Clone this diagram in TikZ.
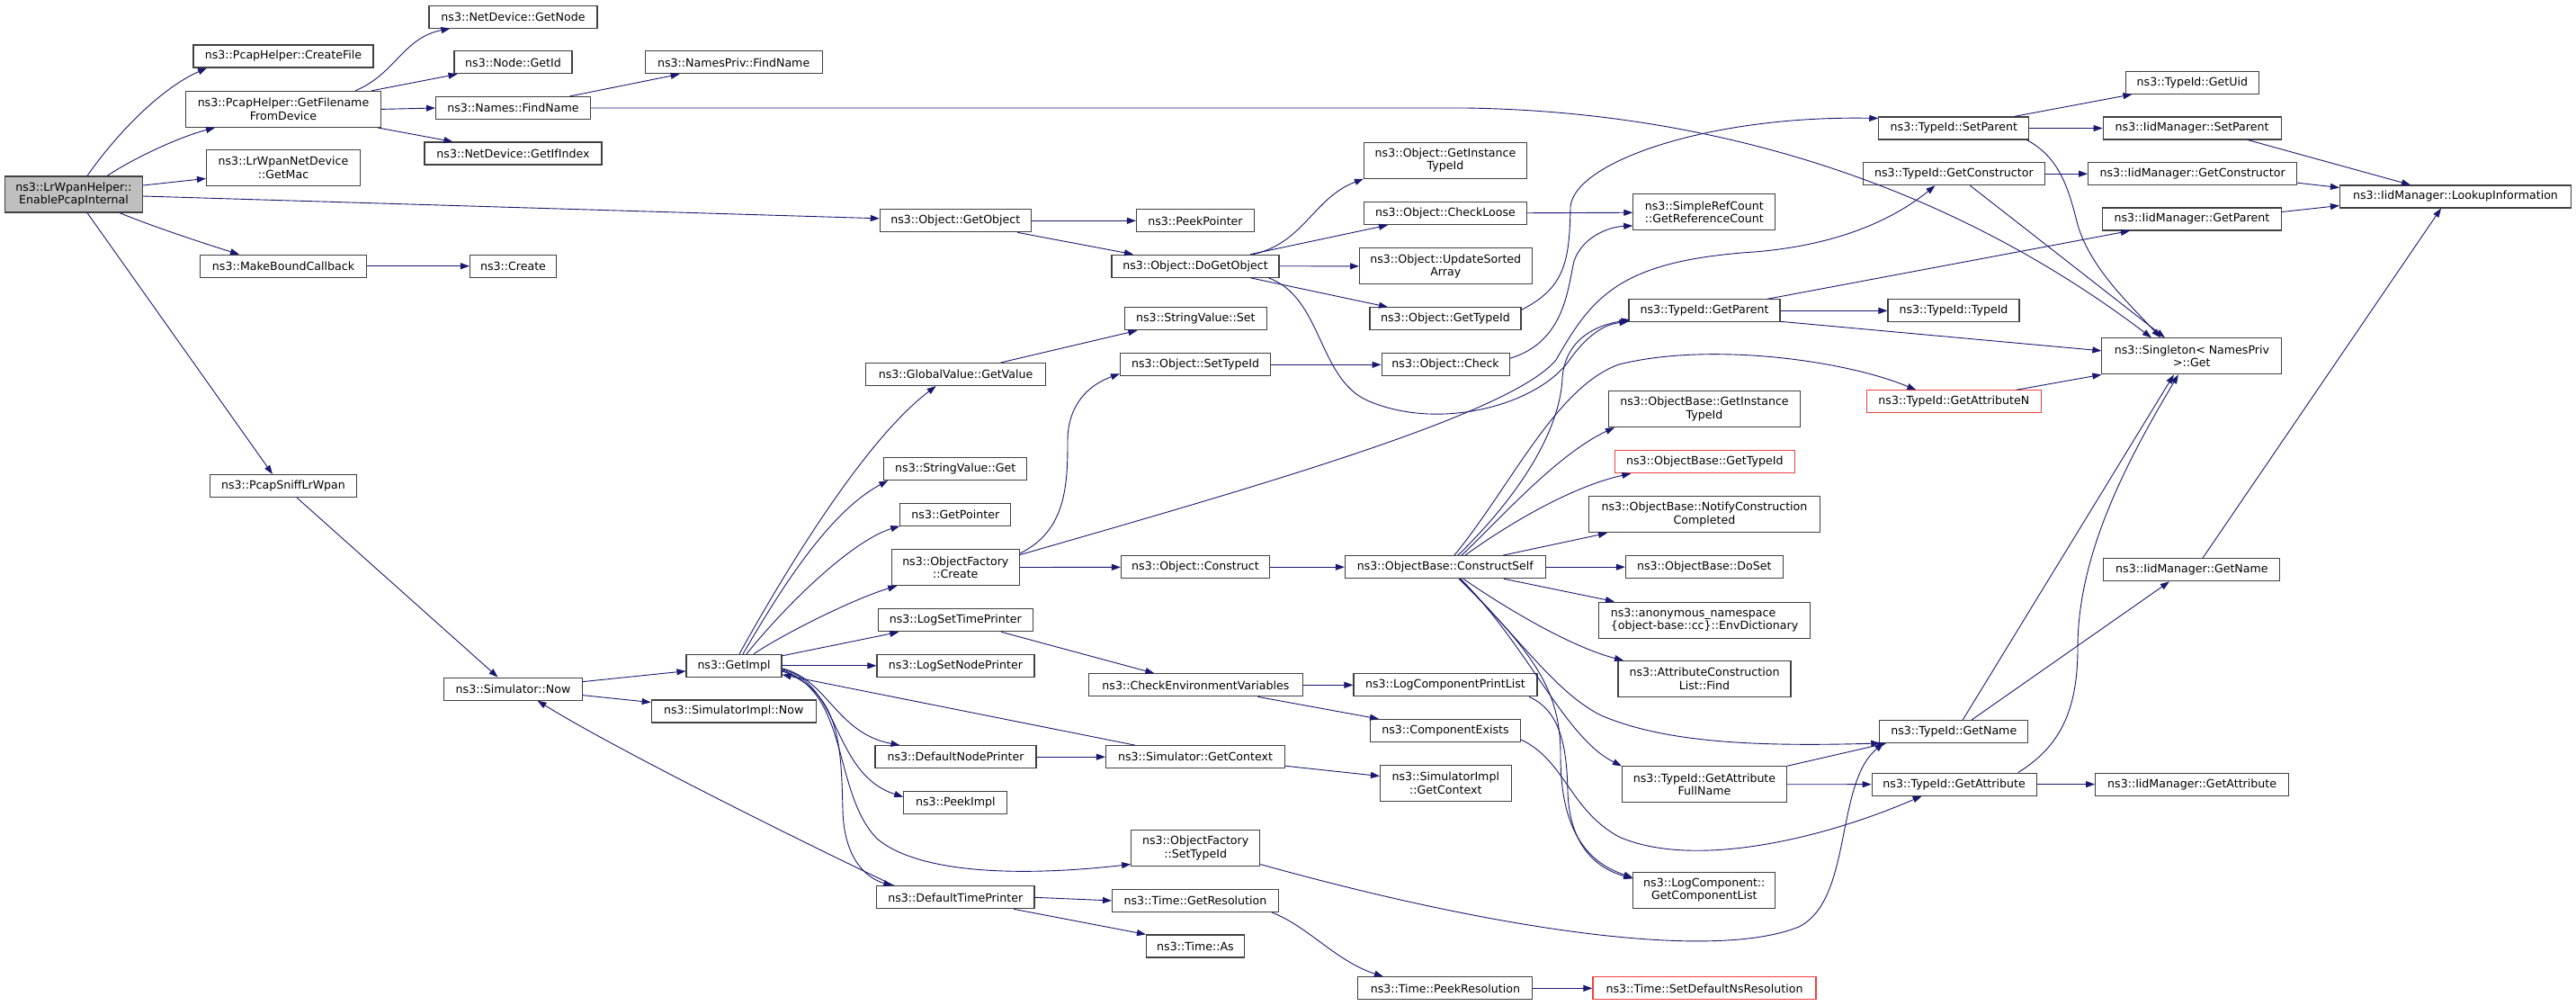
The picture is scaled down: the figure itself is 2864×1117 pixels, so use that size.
\documentclass[tikz,border=0pt]{standalone}
\usepackage{fontspec}
\setmainfont{DejaVu Sans}
\usetikzlibrary{arrows.meta}
\definecolor{mblue}{HTML}{191970}
\definecolor{nodeborder}{HTML}{404040}
\definecolor{redborder}{HTML}{F04040}
\newcommand\dxfont{\fontsize{12.6}{14.6}\selectfont}
\tikzset{
  fn/.style={draw=nodeborder, line width=1.1pt, fill=white, minimum height=25pt, inner sep=0pt, align=center, font=\dxfont},
  fn2/.style={fn, minimum height=40pt},
  rootnode/.style={fill=black!25},
  rednode/.style={draw=redborder},
  edge/.style={draw=mblue, line width=0.9pt, -{Triangle[length=10pt,width=7pt]}},
}
\begin{document}
\begin{tikzpicture}[x=1pt,y=-1pt]
\useasboundingbox (0,0) rectangle (2864,1117);
\fill[white] (0,0) rectangle (2864,1117);
% ---------- nodes ----------
\node[fn2,rootnode,minimum width=153pt] (N1) at (82,216) {ns3::LrWpanHelper::\\EnablePcapInternal};
\node[fn,minimum width=200pt] (N2) at (315,62.5) {ns3::PcapHelper::CreateFile};
\node[fn2,minimum width=217pt] (N3) at (315,121.4) {ns3::PcapHelper::GetFilename\\FromDevice};
\node[fn2,minimum width=171pt] (N4) at (315,186.4) {ns3::LrWpanNetDevice\\::GetMac};
\node[fn,minimum width=185.5pt] (N5) at (315,295.7) {ns3::MakeBoundCallback};
\node[fn,minimum width=163pt] (N6) at (315,540) {ns3::PcapSniffLrWpan};
\node[fn,minimum width=187pt] (N7) at (570.5,18.6) {ns3::NetDevice::GetNode};
\node[fn,minimum width=131pt] (N8) at (570.5,69.3) {ns3::Node::GetId};
\node[fn,minimum width=172pt] (N9) at (570.5,120) {ns3::Names::FindName};
\node[fn,minimum width=197pt] (N10) at (570.5,170.5) {ns3::NetDevice::GetIfIndex};
\node[fn,minimum width=96pt] (N11) at (570.5,295.7) {ns3::Create};
\node[fn,minimum width=153.4pt] (N12) at (570.5,765.6) {ns3::Simulator::Now};
\node[fn,minimum width=197pt] (N13) at (815.7,69.3) {ns3::NamesPriv::FindName};
\node[fn,minimum width=106pt] (N14) at (816,739.8) {ns3::GetImpl};
\node[fn,minimum width=183pt] (N15) at (815.7,790.5) {ns3::SimulatorImpl::Now};
\node[fn,minimum width=168pt] (N16) at (1062.3,245.3) {ns3::Object::GetObject};
\node[fn,minimum width=200pt] (N17) at (1062.6,416) {ns3::GlobalValue::GetValue};
\node[fn,minimum width=159pt] (N18) at (1062.3,521) {ns3::StringValue::Get};
\node[fn,minimum width=123pt] (N19) at (1062.3,571.6) {ns3::GetPointer};
\node[fn2,minimum width=142pt] (N20) at (1062.3,630.6) {ns3::ObjectFactory\\::Create};
\node[fn,minimum width=172pt] (N21) at (1062.3,689.3) {ns3::LogSetTimePrinter};
\node[fn,minimum width=175pt] (N22) at (1062.5,739.8) {ns3::LogSetNodePrinter};
\node[fn,minimum width=179pt] (N23) at (1062.5,841.2) {ns3::DefaultNodePrinter};
\node[fn,minimum width=115pt] (N24) at (1062.3,891.6) {ns3::PeekImpl};
\node[fn,minimum width=175.4pt] (N25) at (1062.3,997.3) {ns3::DefaultTimePrinter};
\node[fn,minimum width=131pt] (N26) at (1329,245.3) {ns3::PeekPointer};
\node[fn,minimum width=186pt] (N27) at (1329,295.7) {ns3::Object::DoGetObject};
\node[fn,minimum width=157.5pt] (N28) at (1329.4,354.2) {ns3::StringValue::Set};
\node[fn,minimum width=167pt] (N29) at (1329,405.3) {ns3::Object::SetTypeId};
\node[fn,minimum width=165pt] (N30) at (1329,630.2) {ns3::Object::Construct};
\node[fn,minimum width=237.6pt] (N31) at (1329.4,761.3) {ns3::CheckEnvironmentVariables};
\node[fn,minimum width=199pt] (N32) at (1329,841.2) {ns3::Simulator::GetContext};
\node[fn2,minimum width=143pt] (N33) at (1329.2,942.5) {ns3::ObjectFactory\\::SetTypeId};
\node[fn,minimum width=185pt] (N34) at (1329,1000.9) {ns3::Time::GetResolution};
\node[fn,minimum width=109pt] (N35) at (1329,1051.5) {ns3::Time::As};
\node[fn2,minimum width=181pt] (N36) at (1607,178.2) {ns3::Object::GetInstance\\TypeId};
\node[fn,minimum width=181pt] (N37) at (1607,237.1) {ns3::Object::CheckLoose};
\node[fn2,minimum width=191.5pt] (N38) at (1607.3,295.9) {ns3::Object::UpdateSorted\\Array};
\node[fn,minimum width=168pt] (N39) at (1607,354.3) {ns3::Object::GetTypeId};
\node[fn,minimum width=142pt] (N40) at (1607.1,405.3) {ns3::Object::Check};
\node[fn,minimum width=223pt] (N41) at (1606.9,630.2) {ns3::ObjectBase::ConstructSelf};
\node[fn,minimum width=204pt] (N42) at (1607,761.3) {ns3::LogComponentPrintList};
\node[fn,minimum width=167pt] (N43) at (1607,812) {ns3::ComponentExists};
\node[fn2,minimum width=145.6pt] (N44) at (1607.3,870.5) {ns3::SimulatorImpl\\::GetContext};
\node[fn,minimum width=194pt] (N45) at (1606.9,1098.3) {ns3::Time::PeekResolution};
\node[fn2,minimum width=158pt] (N46) at (1894.8,235.9) {ns3::SimpleRefCount\\::GetReferenceCount};
\node[fn,minimum width=168pt] (N47) at (1895,345.3) {ns3::TypeId::GetParent};
\node[fn2,minimum width=213pt] (N48) at (1895,454.6) {ns3::ObjectBase::GetInstance\\TypeId};
\node[fn,rednode,minimum width=200pt] (N49) at (1895.3,513.2) {ns3::ObjectBase::GetTypeId};
\node[fn2,minimum width=257pt] (N50) at (1895,571.8) {ns3::ObjectBase::NotifyConstruction\\Completed};
\node[fn,minimum width=175pt] (N51) at (1894.8,630.2) {ns3::ObjectBase::DoSet};
\node[fn2,minimum width=235pt,align=left] (N52) at (1895,689.1) {ns3::anonymous\_namespace\\\{object-base::cc\}::EnvDictionary};
\node[fn2,minimum width=192pt] (N53) at (1895,754.5) {ns3::AttributeConstruction\\List::Find};
\node[fn2,minimum width=183pt] (N54) at (1895,871.8) {ns3::TypeId::GetAttribute\\FullName};
\node[fn2,minimum width=158pt] (N55) at (1894.8,989.3) {ns3::LogComponent::\\GetComponentList};
\node[fn,rednode,minimum width=248pt] (N56) at (1895,1098.3) {ns3::Time::SetDefaultNsResolution};
\node[fn,minimum width=167pt] (N57) at (2172.3,142.5) {ns3::TypeId::SetParent};
\node[fn,minimum width=202pt] (N58) at (2172.4,193.2) {ns3::TypeId::GetConstructor};
\node[fn,minimum width=146pt] (N59) at (2172,345.3) {ns3::TypeId::TypeId};
\node[fn,rednode,minimum width=193.5pt] (N60) at (2172.3,446.4) {ns3::TypeId::GetAttributeN};
\node[fn,minimum width=165pt] (N61) at (2172.3,812.9) {ns3::TypeId::GetName};
\node[fn,minimum width=183pt] (N62) at (2172.6,871.6) {ns3::TypeId::GetAttribute};
\node[fn,minimum width=148.6pt] (N63) at (2437.4,91.8) {ns3::TypeId::GetUid};
\node[fn,minimum width=198pt] (N64) at (2437.1,142.5) {ns3::IidManager::SetParent};
\node[fn,minimum width=232pt] (N65) at (2437.6,193.2) {ns3::IidManager::GetConstructor};
\node[fn,minimum width=199pt] (N66) at (2436.9,243.5) {ns3::IidManager::GetParent};
\node[fn2,minimum width=200pt] (N67) at (2436.9,395.8) {ns3::Singleton\textless{} NamesPriv\\ \textgreater{}::Get};
\node[fn,minimum width=196pt] (N68) at (2436.9,633.3) {ns3::IidManager::GetName};
\node[fn,minimum width=215pt] (N69) at (2437.1,871.6) {ns3::IidManager::GetAttribute};
\node[fn,minimum width=257pt] (N70) at (2730,218.5) {ns3::IidManager::LookupInformation};
% ---------- edges ----------
\draw[edge] ([xshift=15pt]N1.north) .. controls (125,155) and (175,100) .. ([xshift=-85pt]N2.south);
\draw[edge] ([xshift=37pt]N1.north) .. controls (150,175) and (200,152) .. ([xshift=-76pt]N3.south);
\draw[edge] ([yshift=10pt]N1.east) -- ([yshift=-12pt]N4.west);
\draw[edge] ([yshift=-2pt]N1.east) -- ([yshift=2.5pt]N16.west);
\draw[edge] ([xshift=51pt]N1.south) .. controls (165,250) and (225,270) .. ([xshift=-49pt]N5.north);
\draw[edge] ([xshift=15pt]N1.south) -- ([xshift=-12pt]N6.north);
\draw[edge] ([xshift=80pt]N3.north) .. controls (440,82) and (448,42) .. ([xshift=-70pt]N7.south);
\draw[edge] ([xshift=98pt]N3.north) -- ([xshift=-62pt]N8.south);
\draw[edge] (N3.east) -- (N9.west);
\draw[edge] ([xshift=105pt]N3.south) -- ([xshift=-67pt]N10.north);
\draw[edge] ([xshift=63pt]N9.north) -- ([xshift=-60pt]N13.south);
\draw[edge] (N9.east) -- (1630,120) .. controls (1950,125) and (2200,230) .. ([xshift=-45pt]N67.north);
\draw[edge] (N5) -- (N11);
\draw[edge] ([xshift=15pt]N6.south) -- ([xshift=-17pt]N12.north);
\draw[edge] ([yshift=8pt]N12.east) -- ([yshift=-6pt]N14.west);
\draw[edge] ([yshift=-7pt]N12.east) -- ([yshift=10pt]N15.west);
\draw[edge] ([xshift=-68pt]N25.north) .. controls (880,930) and (680,830) .. ([xshift=27pt]N12.south);
% GetImpl
\draw[edge] ([xshift=6pt]N14.north) .. controls (870,640) and (960,490) .. ([xshift=-22pt]N17.south);
\draw[edge] ([xshift=10pt]N14.north) .. controls (865,660) and (920,570) .. ([xshift=-75pt]N18.south);
\draw[edge] ([xshift=14pt]N14.north) .. controls (880,665) and (950,600) .. ([xshift=-62pt]N19.south);
\draw[edge] ([xshift=22pt]N14.north) .. controls (870,705) and (950,665) .. ([xshift=-65pt]N20.south);
\draw[edge] ([yshift=11pt]N14.east) -- ([xshift=-63pt]N21.south);
\draw[edge] (N14) -- (N22);
\draw[edge] ([xshift=-67pt]N32.north) -- ([yshift=-10pt]N14.east);
\draw[edge] ([yshift=-3pt]N14.east) .. controls (920,755) and (930,815) .. ([xshift=-62pt]N23.north);
\draw[edge] ([yshift=-4pt]N14.east) .. controls (935,760) and (925,860) .. ([yshift=6pt]N24.west);
\draw[edge] ([yshift=-5pt]N14.east) .. controls (945,770) and (925,880) .. (975,932) .. controls (1020,970) and (1130,975) .. ([yshift=-18pt]N33.west);
\draw[edge] ([yshift=-6pt]N14.east) .. controls (935,770) and (935,830) .. (937,900) .. controls (938,950) and (960,975) .. ([xshift=-70pt]N25.north);
% column 5
\draw[edge] (N23) -- (N32);
\draw[edge] ([xshift=51pt]N21.south) -- ([xshift=-46pt]N31.north);
\draw[edge] (N31) -- (N42);
\draw[edge] ([xshift=69pt]N31.south) -- ([xshift=-74pt]N43.north);
\draw[edge] ([yshift=-10pt]N32.east) -- ([yshift=8pt]N44.west);
\draw[edge] (N25.east) -- (N34.west);
\draw[edge] ([xshift=65pt]N25.south) -- ([xshift=-55pt]N35.north);
\draw[edge] ([xshift=85pt]N34.south) .. controls (1455,1030) and (1485,1068) .. ([xshift=-69pt]N45.north);
\draw[edge] (N45) -- (N56);
\draw[edge] ([yshift=-18pt]N33.east) .. controls (1650,1030) and (1900,1070) .. (2000,1030) .. controls (2060,1000) and (2040,870) .. ([xshift=-78pt]N61.south);
% object factory
\draw[edge] (N30) -- (N41);
\draw[edge] (N20) -- (N30);
\draw[edge] ([yshift=-5pt]N20.north east) .. controls (1185,590) and (1187,540) .. (1187,490) .. controls (1187,450) and (1210,428) .. ([yshift=-10pt]N29.west);
\draw[edge] ([yshift=14pt]N20.east) .. controls (1400,540) and (1680,460) .. (1730,400) .. controls (1770,330) and (1800,290) .. (1950,280) .. controls (2050,272) and (2110,240) .. ([xshift=-21pt]N58.south);
% GetObject
\draw[edge] (N16) -- (N26);
\draw[edge] ([xshift=69pt]N16.south) -- ([xshift=-69pt]N27.north);
\draw[edge] ([xshift=64pt]N27.north) .. controls (1450,270) and (1460,220) .. (N36.south west);
\draw[edge] ([xshift=61pt]N27.north) -- ([xshift=-64pt]N37.south);
\draw[edge] (N27) -- (N38);
\draw[edge] ([xshift=61pt]N27.south) -- ([xshift=-64pt]N39.north);
\draw[edge] ([xshift=81pt]N27.south) .. controls (1470,330) and (1465,420) .. (1520,445) .. controls (1600,480) and (1710,450) .. (1745,400) .. controls (1770,365) and (1790,360) .. ([yshift=1pt]N47.south west);
\draw[edge] (N29) -- (N40);
\draw[edge] (N37) -- (N46);
\draw[edge] ([yshift=7pt]N40.east) .. controls (1740,380) and (1743,320) .. (1750,290) .. controls (1760,262) and (1790,252) .. ([yshift=-15pt]N46.west);
\draw[edge] ([yshift=10pt]N39.east) .. controls (1740,320) and (1745,290) .. (1746,230) .. controls (1750,180) and (1900,128) .. ([yshift=11pt]N57.west);
\draw[edge] ([xshift=50pt]N17.north) -- ([xshift=-65pt]N28.south);
% ConstructSelf
\draw[edge] ([xshift=18pt]N41.north) .. controls (1660,585) and (1730,505) .. ([xshift=-100pt]N48.south);
\draw[edge] ([xshift=14pt]N41.north) .. controls (1700,540) and (1735,470) .. (1737,420) .. controls (1740,380) and (1770,362) .. ([xshift=2pt,yshift=3pt]N47.south west);
\draw[edge] ([xshift=10pt]N41.north) .. controls (1680,540) and (1730,430) .. (1800,405) .. controls (1900,380) and (2050,400) .. ([xshift=-42pt]N60.north);
\draw[edge] ([xshift=22pt]N41.north) .. controls (1680,580) and (1750,540) .. ([xshift=-82pt]N49.south);
\draw[edge] ([xshift=64pt]N41.north) -- ([xshift=-108pt]N50.south);
\draw[edge] (N41) -- (N51);
\draw[edge] ([xshift=65pt]N41.south) -- ([xshift=-100pt]N52.north);
\draw[edge] ([xshift=20pt]N41.south) .. controls (1680,680) and (1750,720) .. ([xshift=-90pt]N53.north);
\draw[edge] ([xshift=16pt]N41.south) .. controls (1690,710) and (1730,770) .. (1780,795) .. controls (1850,825) and (1950,830) .. ([xshift=1pt]N61.south west);
\draw[edge] ([xshift=17pt]N41.south) .. controls (1700,720) and (1740,820) .. (N54.north west);
\draw[edge] ([xshift=15pt]N41.south) .. controls (1710,730) and (1735,770) .. (1735,840) .. controls (1735,930) and (1770,960) .. ([yshift=14pt]N55.west);
\draw[edge] ([xshift=93pt]N42.south) .. controls (1735,790) and (1742,830) .. (1743,880) .. controls (1745,940) and (1775,965) .. ([yshift=13pt]N55.west);
\draw[edge] ([yshift=-10pt]N43.east) .. controls (1740,845) and (1745,900) .. (1800,930) .. controls (1880,965) and (2020,935) .. ([xshift=-36pt]N62.south);
\draw[edge] (N54.north east) -- ([xshift=-75pt]N61.south);
\draw[edge] (N54) -- (N62);
% TypeId column
\draw[edge] (N47) -- (N59);
\draw[edge] ([xshift=70pt]N47.north) -- ([xshift=-69pt]N66.south);
\draw[edge] ([yshift=-12pt]N47.east) -- ([yshift=6pt]N67.west);
\draw[edge] ([xshift=67pt]N57.north) -- ([xshift=-67pt]N63.south);
\draw[edge] (N57) -- (N64);
\draw[edge] ([xshift=81pt]N57.south) .. controls (2290,175) and (2300,210) .. (2310,250) .. controls (2325,300) and (2370,340) .. ([xshift=-35pt]N67.north);
\draw[edge] (N58) -- (N65);
\draw[edge] ([xshift=18pt]N58.south) -- ([xshift=-30pt]N67.north);
\draw[edge] ([xshift=69pt]N60.north) -- (N67.south west);
\draw[edge] ([xshift=10pt]N61.north) -- ([xshift=-20pt]N67.south);
\draw[edge] ([xshift=20pt]N61.north) -- ([xshift=-25pt]N68.south);
\draw[edge] (N62) -- (N69);
\draw[edge] ([xshift=71pt]N62.north) .. controls (2290,830) and (2310,790) .. (2310,720) .. controls (2310,620) and (2360,520) .. ([xshift=-15pt]N67.south);
\draw[edge] ([xshift=62pt]N64.south) -- ([xshift=-50pt]N70.north);
\draw[edge] ([yshift=-10pt]N65.east) -- ([yshift=10pt]N70.west);
\draw[edge] ([yshift=8pt]N66.east) -- ([yshift=-10pt]N70.west);
\draw[edge] ([xshift=12pt]N68.north) -- ([xshift=-16pt]N70.south);
\end{tikzpicture}
\end{document}
